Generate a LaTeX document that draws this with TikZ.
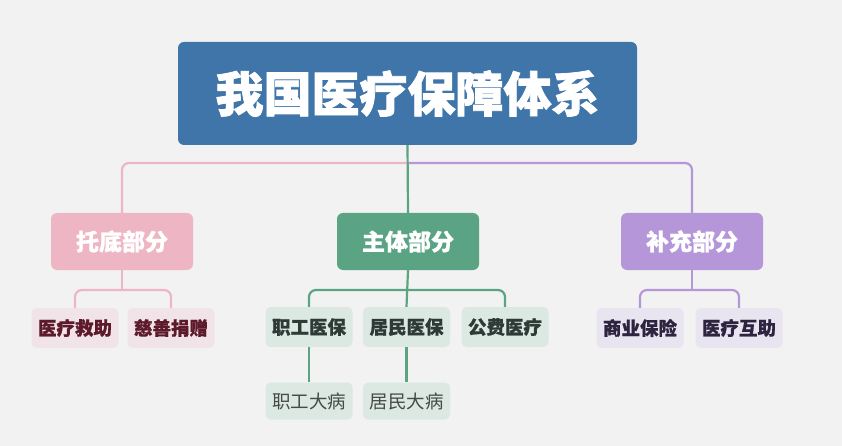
\documentclass[tikz,border=0pt]{standalone}
\usepackage{fontspec}
\setmainfont{Noto Sans CJK SC}
\newfontfamily\heavy[BoldFeatures={FakeBold=1.6}]{Noto Sans CJK SC}
\newfontfamily\semiheavy[BoldFeatures={FakeBold=0.8}]{Noto Sans CJK SC}
\begin{document}
\begin{tikzpicture}[x=1pt,y=-1pt,
  rootbox/.style={fill=rootblue, rounded corners=6pt, minimum width=459pt, minimum height=103pt, text=white, font=\heavy\bfseries\fontsize{48}{50}\selectfont},
  catbox/.style={rounded corners=6pt, minimum width=142pt, minimum height=57pt, text=white, font=\semiheavy\bfseries\fontsize{23}{24}\selectfont},
  leafbox/.style={rounded corners=5pt, minimum width=87pt, minimum height=40pt, font=\semiheavy\bfseries\fontsize{18.5}{20}\selectfont},
  subbox/.style={rounded corners=5pt, minimum width=87pt, minimum height=37pt, font=\fontsize{18.5}{20}\selectfont},
  conn/.style={line width=2.2pt, rounded corners=7pt},
]
\definecolor{bgc}{HTML}{F2F2F2}
\definecolor{rootblue}{HTML}{3F75A8}
\definecolor{pinkc}{HTML}{EEB6C4}
\definecolor{pinkl}{HTML}{F1E4E8}
\definecolor{pinkt}{HTML}{5C1A2C}
\definecolor{greenc}{HTML}{5AA383}
\definecolor{greenl}{HTML}{DCE8E2}
\definecolor{greent}{HTML}{2E3A35}
\definecolor{greens}{HTML}{454B48}
\definecolor{purplec}{HTML}{B596D9}
\definecolor{purplel}{HTML}{E9E5F0}
\definecolor{purplet}{HTML}{2D2440}
\fill[bgc] (0,0) rectangle (842,446);
\useasboundingbox (0,0) rectangle (842,446);

\node[rootbox] (root) at (407.5,93.5) {我国医疗保障体系};
\node[catbox, fill=pinkc] (pink) at (122,241.5) {托底部分};
\node[catbox, fill=greenc] (green) at (408,241.5) {主体部分};
\node[catbox, fill=purplec] (purple) at (692,241.5) {补充部分};

\node[leafbox, fill=pinkl, text=pinkt] (p1) at (75,328) {医疗救助};
\node[leafbox, fill=pinkl, text=pinkt] (p2) at (171,328) {慈善捐赠};

\node[leafbox, fill=greenl, text=greent] (g1) at (309,327) {职工医保};
\node[leafbox, fill=greenl, text=greent] (g2) at (406.5,327) {居民医保};
\node[leafbox, fill=greenl, text=greent] (g3) at (505,327) {公费医疗};
\node[subbox, fill=greenl, text=greens] (g4) at (309,401) {职工大病};
\node[subbox, fill=greenl, text=greens] (g5) at (406.5,401) {居民大病};

\node[leafbox, fill=purplel, text=purplet] (u1) at (640,328) {商业保险};
\node[leafbox, fill=purplel, text=purplet] (u2) at (739,328) {医疗互助};

% level 1 connectors
\coordinate (jt) at (root.south |- 0,163);
\draw[conn, pinkc] (jt) -- (jt -| pink.north) -- (pink.north);
\draw[conn, purplec] (jt) -- (jt -| purple.north) -- (purple.north);
\draw[conn, greenc] (root.south) -- (green.north);

% pink children
\coordinate (pj) at (pink.south |- 0,290);
\draw[conn, pinkc] (pink.south) -- (pj);
\draw[conn, pinkc] (p1.north) -- (p1.north |- pj) -- (p2.north |- pj) -- (p2.north);

% green children
\coordinate (gj) at (green.south |- 0,290);
\draw[conn, greenc] (green.south) -- (g2.north);
\draw[conn, greenc] (g1.north) -- (g1.north |- gj) -- (g3.north |- gj) -- (g3.north);
\draw[conn, greenc] (g1.south) -- (g4.north);
\draw[conn, greenc] (g2.south) -- (g5.north);

% purple children
\coordinate (uj) at (purple.south |- 0,290);
\draw[conn, purplec] (purple.south) -- (uj);
\draw[conn, purplec] (u1.north) -- (u1.north |- uj) -- (u2.north |- uj) -- (u2.north);
\end{tikzpicture}
\end{document}
